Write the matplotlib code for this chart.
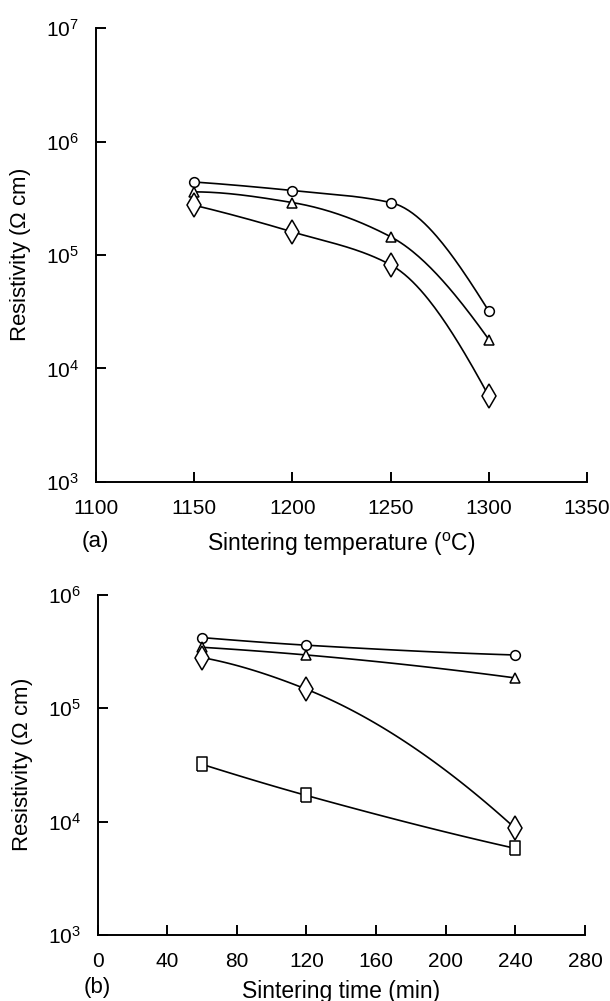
import numpy as np
import matplotlib
matplotlib.use('Agg')
import matplotlib.pyplot as plt
from matplotlib.ticker import LogLocator, NullLocator, FuncFormatter

plt.rcParams['font.family'] = ['Liberation Sans', 'DejaVu Sans']
plt.rcParams['mathtext.default'] = 'regular'

# (a) resistivity vs sintering temperature
temp = [1150, 1200, 1250, 1300]
temp_circle = [4.4e5, 3.7e5, 2.9e5, 3.2e4]
temp_triangle = [3.6e5, 2.9e5, 1.45e5, 1.8e4]
temp_diamond = [2.75e5, 1.6e5, 8.2e4, 5.7e3]

# (b) resistivity vs sintering time
time = [60, 120, 240]
time_circle = [4.2e5, 3.6e5, 2.95e5]
time_triangle = [3.45e5, 2.95e5, 1.85e5]
time_diamond = [2.8e5, 1.47e5, 8.7e3]
time_square = [3.2e4, 1.7e4, 5.8e3]

rect = [(-0.7, -1), (0.7, -1), (0.7, 1), (-0.7, 1), (-0.7, -1)]


def smooth(x, y, n=50):
    # monotone cubic (Fritsch-Carlson) through the points, in log space
    x = np.asarray(x, float)
    ly = np.log10(y)
    h = np.diff(x)
    d = np.diff(ly) / h
    m = np.zeros_like(x)
    for i in range(1, len(x) - 1):
        if d[i - 1] * d[i] > 0:
            w1 = 2 * h[i] + h[i - 1]
            w2 = h[i] + 2 * h[i - 1]
            m[i] = (w1 + w2) / (w1 / d[i - 1] + w2 / d[i])
    m[0] = ((2 * h[0] + h[1]) * d[0] - h[0] * d[1]) / (h[0] + h[1])
    m[-1] = ((2 * h[-1] + h[-2]) * d[-1] - h[-1] * d[-2]) / (h[-1] + h[-2])
    if np.sign(m[0]) != np.sign(d[0]):
        m[0] = 0
    if np.sign(m[-1]) != np.sign(d[-1]):
        m[-1] = 0
    xs, ys = [], []
    t = np.linspace(0, 1, n)
    h00 = 2 * t ** 3 - 3 * t ** 2 + 1
    h10 = t ** 3 - 2 * t ** 2 + t
    h01 = -2 * t ** 3 + 3 * t ** 2
    h11 = t ** 3 - t ** 2
    for i in range(len(x) - 1):
        xs.append(x[i] + t * h[i])
        ys.append(h00 * ly[i] + h10 * h[i] * m[i] + h01 * ly[i + 1] + h11 * h[i] * m[i + 1])
    return np.concatenate(xs), 10 ** np.concatenate(ys)


def draw(ax, x, y, marker, ms):
    sx, sy = smooth(x, y)
    ax.plot(sx, sy, color='black', lw=1.2)
    ax.plot(x, y, linestyle='none', marker=marker, ms=ms, mfc='white',
            mec='black', mew=1.1)


def style(ax, xlab_y):
    ax.set_yscale('log')
    ax.spines['top'].set_visible(False)
    ax.spines['right'].set_visible(False)
    for s in ('left', 'bottom'):
        ax.spines[s].set_linewidth(1.4)
    ax.yaxis.set_major_locator(LogLocator(base=10))
    ax.yaxis.set_minor_locator(NullLocator())
    ax.yaxis.set_major_formatter(FuncFormatter(
        lambda v, p: '$10^{%d}$' % int(round(np.log10(v)))))
    ax.tick_params(direction='in', length=7, width=1.4, labelsize=15)
    ax.tick_params(axis='x', pad=12)
    ax.tick_params(axis='y', pad=12)
    ax.set_ylabel('Resistivity ($\\Omega$ cm)', fontsize=16)
    ax.yaxis.set_label_coords(-0.128, 0.5)
    ax.xaxis.set_label_coords(0.5, xlab_y)


fig = plt.figure(figsize=(6.1, 10.01), dpi=100)

ax1 = fig.add_axes([0.1566, 0.5185, 0.806, 0.4535])
draw(ax1, temp, temp_circle, 'o', 7)
draw(ax1, temp, temp_triangle, '^', 7)
draw(ax1, temp, temp_diamond, 'd', 12)
ax1.set_xlim(1100, 1350)
ax1.set_ylim(1e3, 1e7)
ax1.set_xticks([1100, 1150, 1200, 1250, 1300, 1350])
ax1.set_xlabel('Sintering temperature ($^{o}$C)', fontsize=16.5)
style(ax1, -0.108)
fig.text(0.157, 1 - 542 / 1001, '(a)', fontsize=16, ha='center', va='center')

ax2 = fig.add_axes([0.16, 0.066, 0.799, 0.3397])
draw(ax2, time, time_circle, 'o', 7)
draw(ax2, time, time_triangle, '^', 7)
draw(ax2, time, time_diamond, 'd', 12)
draw(ax2, time, time_square, rect, 9.5)
ax2.set_xlim(0, 280)
ax2.set_ylim(1e3, 1e6)
ax2.set_xticks([0, 40, 80, 120, 160, 200, 240, 280])
ax2.set_xlabel('Sintering time (min)', fontsize=16.5)
style(ax2, -0.132)
fig.text(0.16, 1 - 988 / 1001, '(b)', fontsize=16, ha='center', va='center')

fig.savefig('out.png', dpi=100)
